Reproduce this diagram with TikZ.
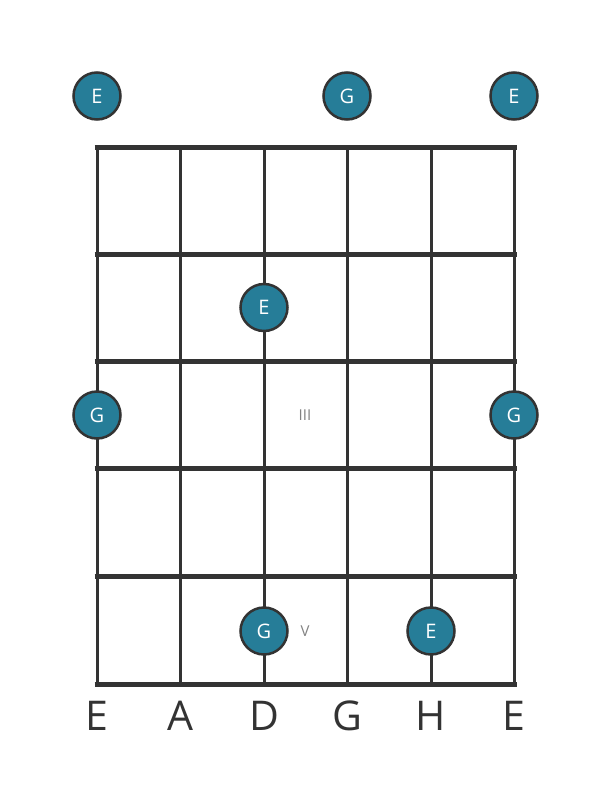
\documentclass[tikz,border=0pt]{standalone}
\usepackage{fontspec}
\setmainfont{Open Sans}
\definecolor{dotfill}{RGB}{38,125,152}
\definecolor{ink}{RGB}{51,51,51}
\definecolor{roman}{RGB}{130,130,130}
\begin{document}
\begin{tikzpicture}[x=1pt,y=-1pt,
  fret/.style={draw=ink,line width=5pt},
  stringline/.style={draw=ink,line width=3pt},
  dot/.style={circle,draw=ink,line width=2.5pt,fill=dotfill,minimum size=47pt,inner sep=0pt,text=white,font=\fontsize{20}{20}\selectfont},
  strlabel/.style={text=ink,font=\fontsize{41}{41}\selectfont,inner sep=0pt},
  fretnum/.style={text=roman,font=\fontsize{15}{15}\selectfont,inner sep=0pt}]
\useasboundingbox (0,0) rectangle (611,801);
% strings
\foreach \x [count=\i] in {97,180,264,347,431,514} {
  \coordinate (st\i) at (\x,147);
  \coordinate (sb\i) at (\x,684);
  \draw[stringline] (st\i) -- (sb\i);
}
% frets
\foreach \y [count=\j] in {147,254,361,468,576,684} {
  \coordinate (fl\j) at (94.5,\y);
  \coordinate (fr\j) at (516.5,\y);
  \draw[fret] (fl\j) -- (fr\j);
}
% fret numbers
\node[fretnum] (f3) at (305,415) {III};
\node[fretnum] (f5) at (305,631) {V};
% dots
\node[dot] (d1) at (97,96) {E};
\node[dot] (d2) at (347,96) {G};
\node[dot] (d3) at (514,96) {E};
\node[dot] (d4) at (264,307.5) {E};
\node[dot] (d5) at (97,415) {G};
\node[dot] (d6) at (514,415) {G};
\node[dot] (d7) at (264,631) {G};
\node[dot] (d8) at (431,631) {E};
% string labels
\foreach \x/\t [count=\i] in {97/E,180/A,264/D,347/G,431/H,514/E} {
  \node[strlabel,anchor=base] (l\i) at (\x,730) {\t};
}
\end{tikzpicture}
\end{document}
